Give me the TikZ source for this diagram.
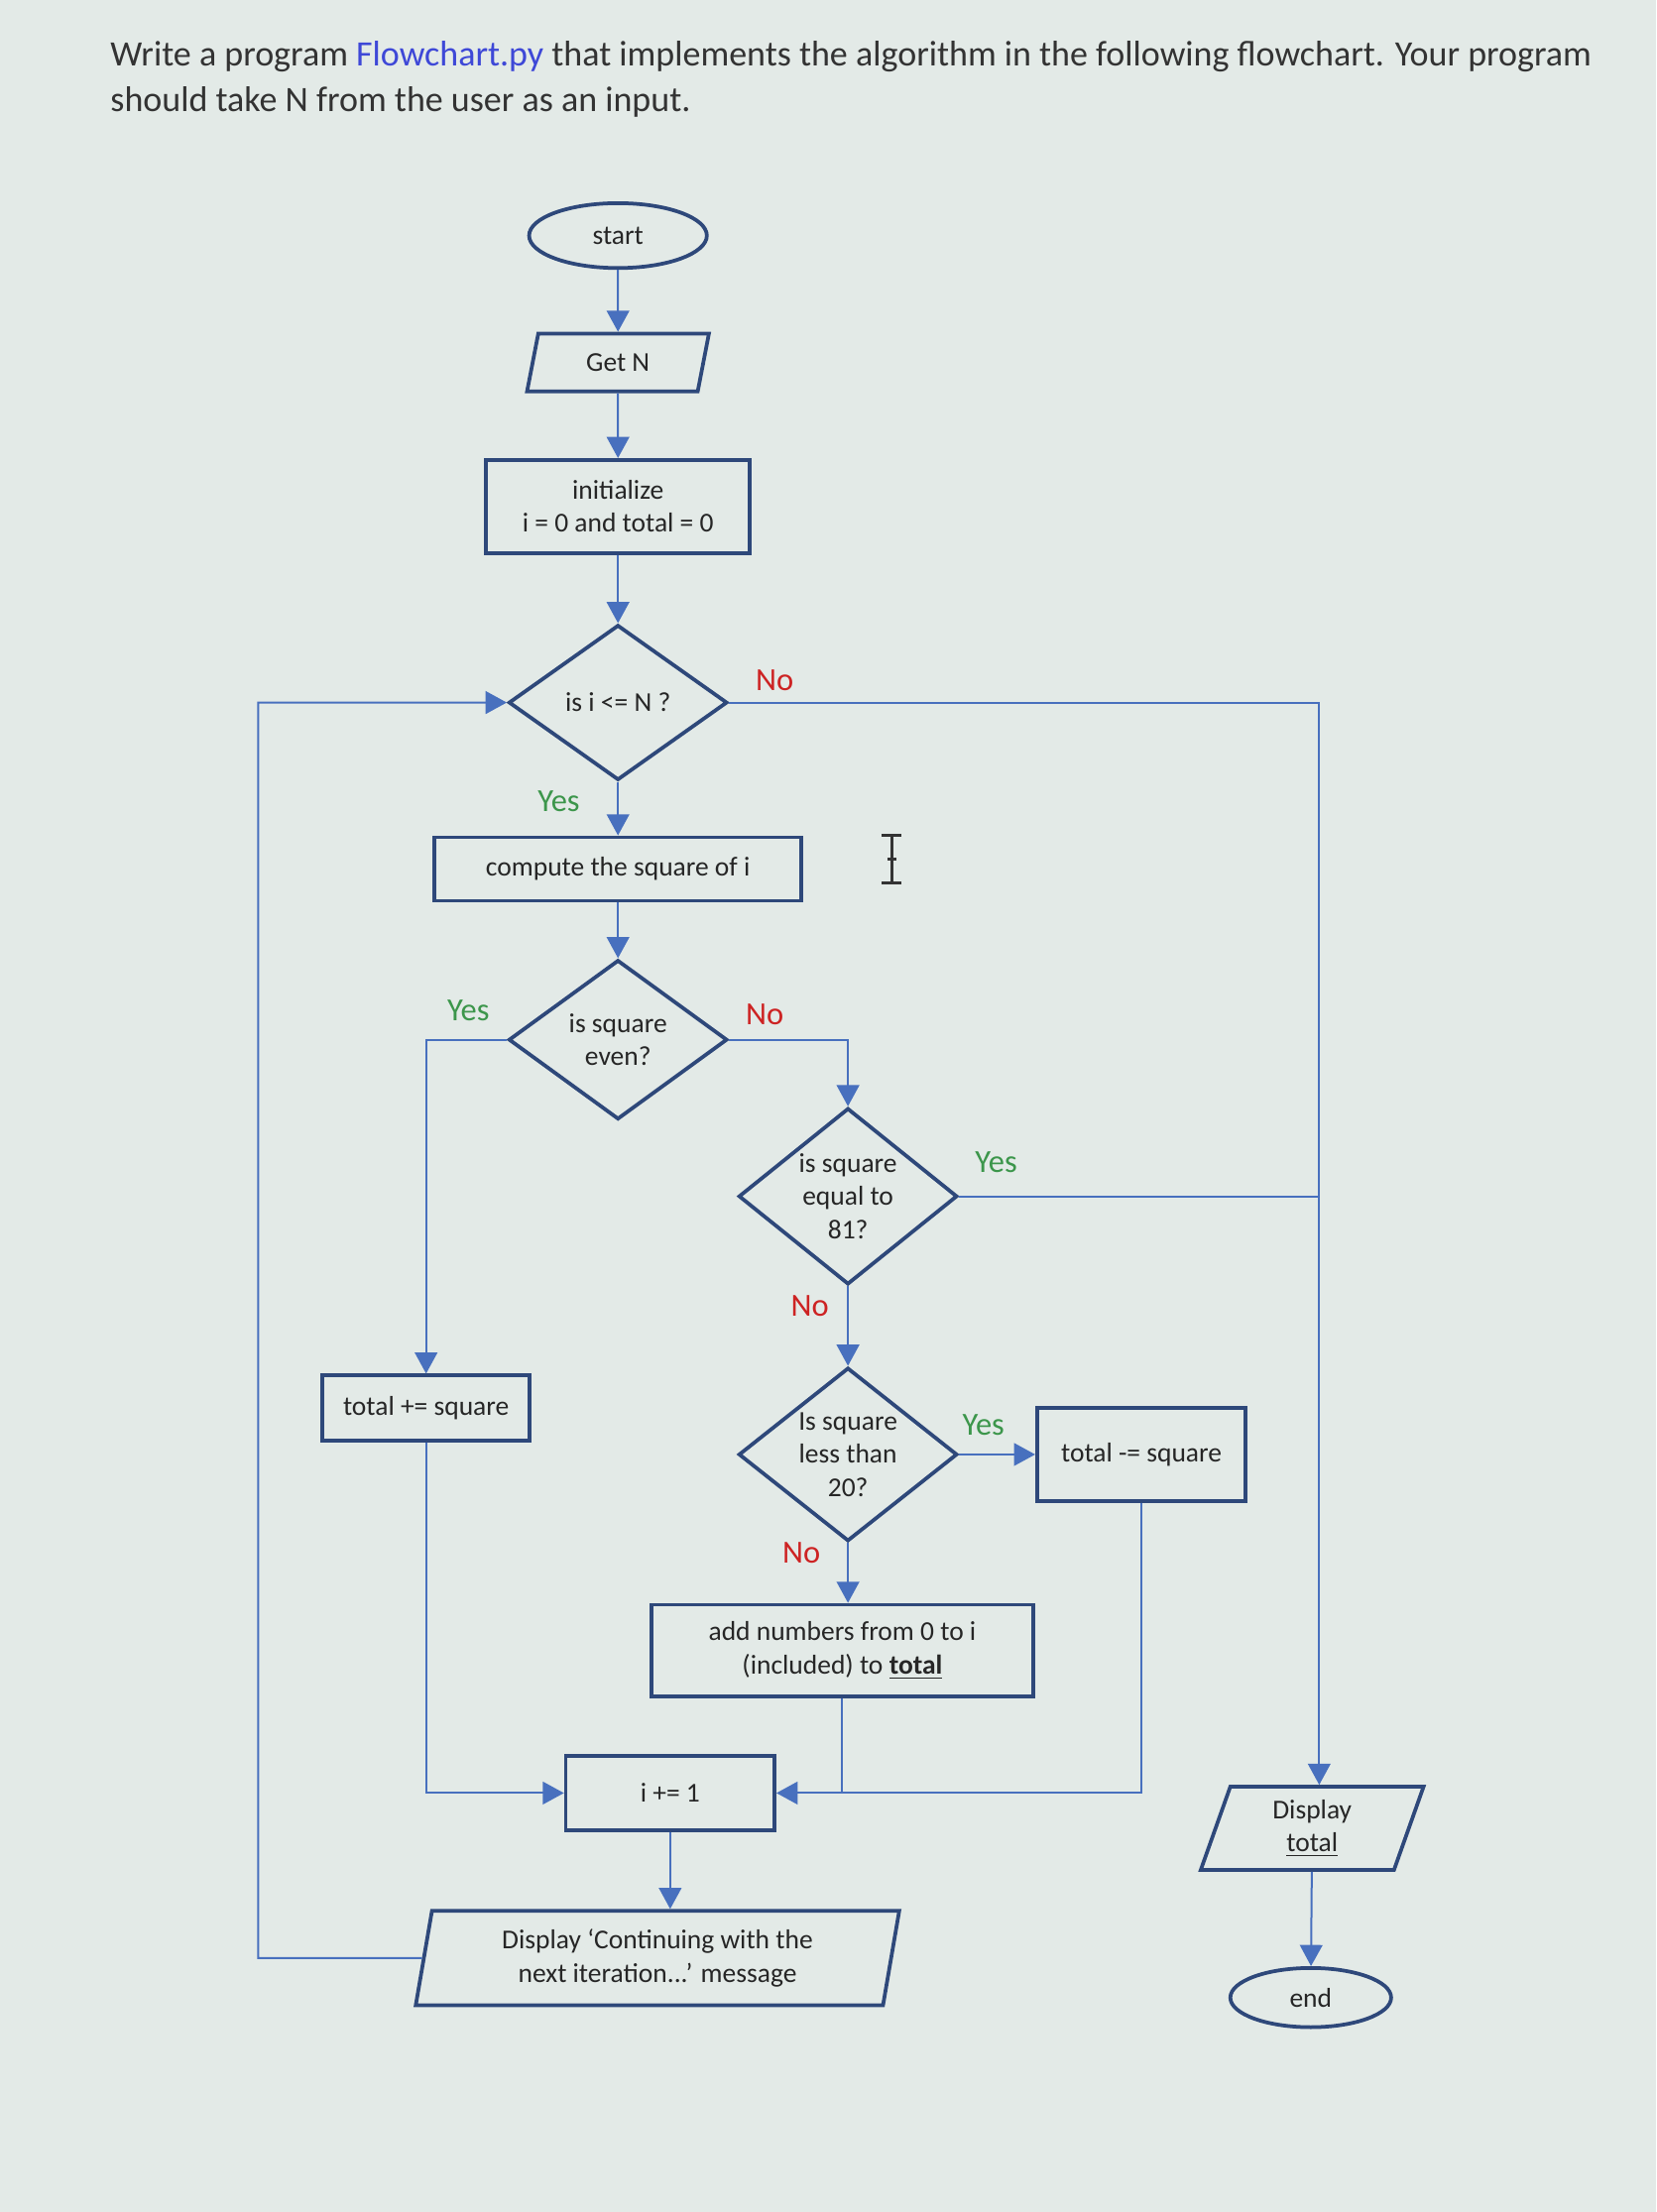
\documentclass[tikz,border=0pt]{standalone}
\usepackage{fontspec}
\setmainfont{Carlito}
\usetikzlibrary{shapes.geometric,arrows.meta}

\definecolor{edge}{RGB}{46,72,122}
\definecolor{wire}{RGB}{72,112,190}
\definecolor{yescol}{RGB}{60,150,75}
\definecolor{nocol}{RGB}{205,35,35}
\definecolor{paper}{RGB}{227,234,231}
\definecolor{linkblue}{RGB}{62,72,215}

\begin{document}
\begin{tikzpicture}[x=0.02cm,y=-0.02cm,
  every node/.style={font=\fontsize{11}{13.4}\selectfont, text=black!85},
  box/.style={draw=edge, line width=1.5pt, rectangle, inner sep=2pt, align=center},
  term/.style={draw=edge, line width=1.5pt, ellipse, inner sep=0pt},
  decide/.style={draw=edge, line width=1.5pt, diamond, aspect=1.24, inner sep=0pt, align=center},
  io/.style={draw=edge, line width=1.5pt, trapezium, trapezium stretches=true, inner sep=0pt, align=center},
  wire/.style={draw=wire, line width=0.8pt},
  arr/.style={wire, -{Triangle[width=0.32cm,length=0.3cm]}},
  yes/.style={text=yescol, font=\fontsize{13}{15}\selectfont},
  no/.style={text=nocol, font=\fontsize{13}{15}\selectfont},
  headline/.style={anchor=base west, inner sep=0pt, font=\fontsize{14.4}{17}\selectfont, text=black!80}]

\fill[paper] (0,0) rectangle (1174,1568);
\useasboundingbox (0,0) rectangle (1174,1568);

\node[headline] (line1) at (78,47)
  {Write a program \textcolor{linkblue}{Flowchart.py} that implements the algorithm in the following flowchart. Your program};
\node[headline] (line2) at (78,79) {should take N from the user as an input.};

\node[term, minimum width=2.52cm, minimum height=0.92cm] (start) at (438,167) {start};
\node[io, trapezium left angle=76, trapezium right angle=104,
  minimum width=2.58cm, minimum height=0.82cm] (getn) at (438,257) {Get N};
\node[box, minimum width=3.74cm, minimum height=1.32cm] (init) at (438,359) {initialize\\i = 0 and total = 0};
\node[decide, minimum width=3.1cm, minimum height=2.2cm] (checkN) at (438,498) {is i <= N ?};
\node[box, minimum width=5.2cm, minimum height=0.9cm] (square) at (438,616) {compute the square of i};
\node[decide, minimum width=3.1cm, minimum height=2.26cm] (even) at (438,737) {is square\\even?};
\node[decide, minimum width=3.1cm, minimum height=2.5cm] (eq81) at (601,848) {is square\\equal to\\81?};
\node[decide, minimum width=3.1cm, minimum height=2.46cm] (lt20) at (601,1031) {Is square\\less than\\20?};
\node[box, minimum width=2.94cm, minimum height=0.92cm] (addsq) at (302,998) {total += square};
\node[box, minimum width=2.96cm, minimum height=1.32cm] (subsq) at (809,1031) {total -= square};
\node[box, minimum width=5.42cm, minimum height=1.3cm] (sumto) at (597,1170)
  {add numbers from 0 to i\\(included) to \textbf{\underline{total}}};
\node[box, minimum width=2.96cm, minimum height=1.06cm] (inc) at (475,1271) {i += 1};
\node[io, trapezium left angle=79, trapezium right angle=101,
  minimum width=6.86cm, minimum height=1.34cm] (msg) at (466,1388)
  {Display `Continuing with the\\next iteration...' message};
\node[io, trapezium left angle=76, trapezium right angle=104,
  minimum width=3.16cm, minimum height=1.18cm] (show) at (930,1296) {Display\\\underline{total}};
\node[term, minimum width=2.28cm, minimum height=0.84cm] (end) at (929,1416) {end};

\coordinate (rail) at (935,498);
\coordinate (loopx) at (183,1388);

\draw[arr] (start) -- (getn);
\draw[arr] (getn) -- (init);
\draw[arr] (init) -- (checkN);
\draw[arr] (checkN) -- (square);
\draw[arr] (square) -- (even);
\draw[arr] (even.west) -| (addsq.north);
\draw[arr] (even.east) -| (eq81.north);
\draw[arr] (eq81) -- (lt20);
\draw[arr] (lt20) -- (subsq);
\draw[arr] (lt20) -- (lt20 |- sumto.north);
\draw[arr] (checkN.east) -- (rail) -- (rail |- show.north);
\draw[wire] (eq81.east) -- (eq81.east -| rail);
\draw[arr] (addsq.south) |- (inc.west);
\draw[arr] (subsq.south) |- (inc.east);
\draw[wire] (sumto.south) -- (sumto.south |- inc.east);
\draw[arr] (inc) -- (inc |- msg.north);
\draw[arr] (msg.west) -- (loopx) |- (checkN.west);
\draw[arr] (show) -- (end);

\node[yes] (y1) at (396,568) {Yes};
\node[no] (n1) at (549,482) {No};
\node[yes] (y2) at (332,716) {Yes};
\node[no] (n2) at (542,719) {No};
\node[yes] (y3) at (706,824) {Yes};
\node[no] (n3) at (574,926) {No};
\node[yes] (y4) at (697,1010) {Yes};
\node[no] (n4) at (568,1101) {No};

% text cursor
\draw[line width=1.1pt, black!80] (625,592) -- (639,592) (632,592) -- (632,626)
  (625,626) -- (639,626) (629,609) -- (635,609);
\end{tikzpicture}
\end{document}
